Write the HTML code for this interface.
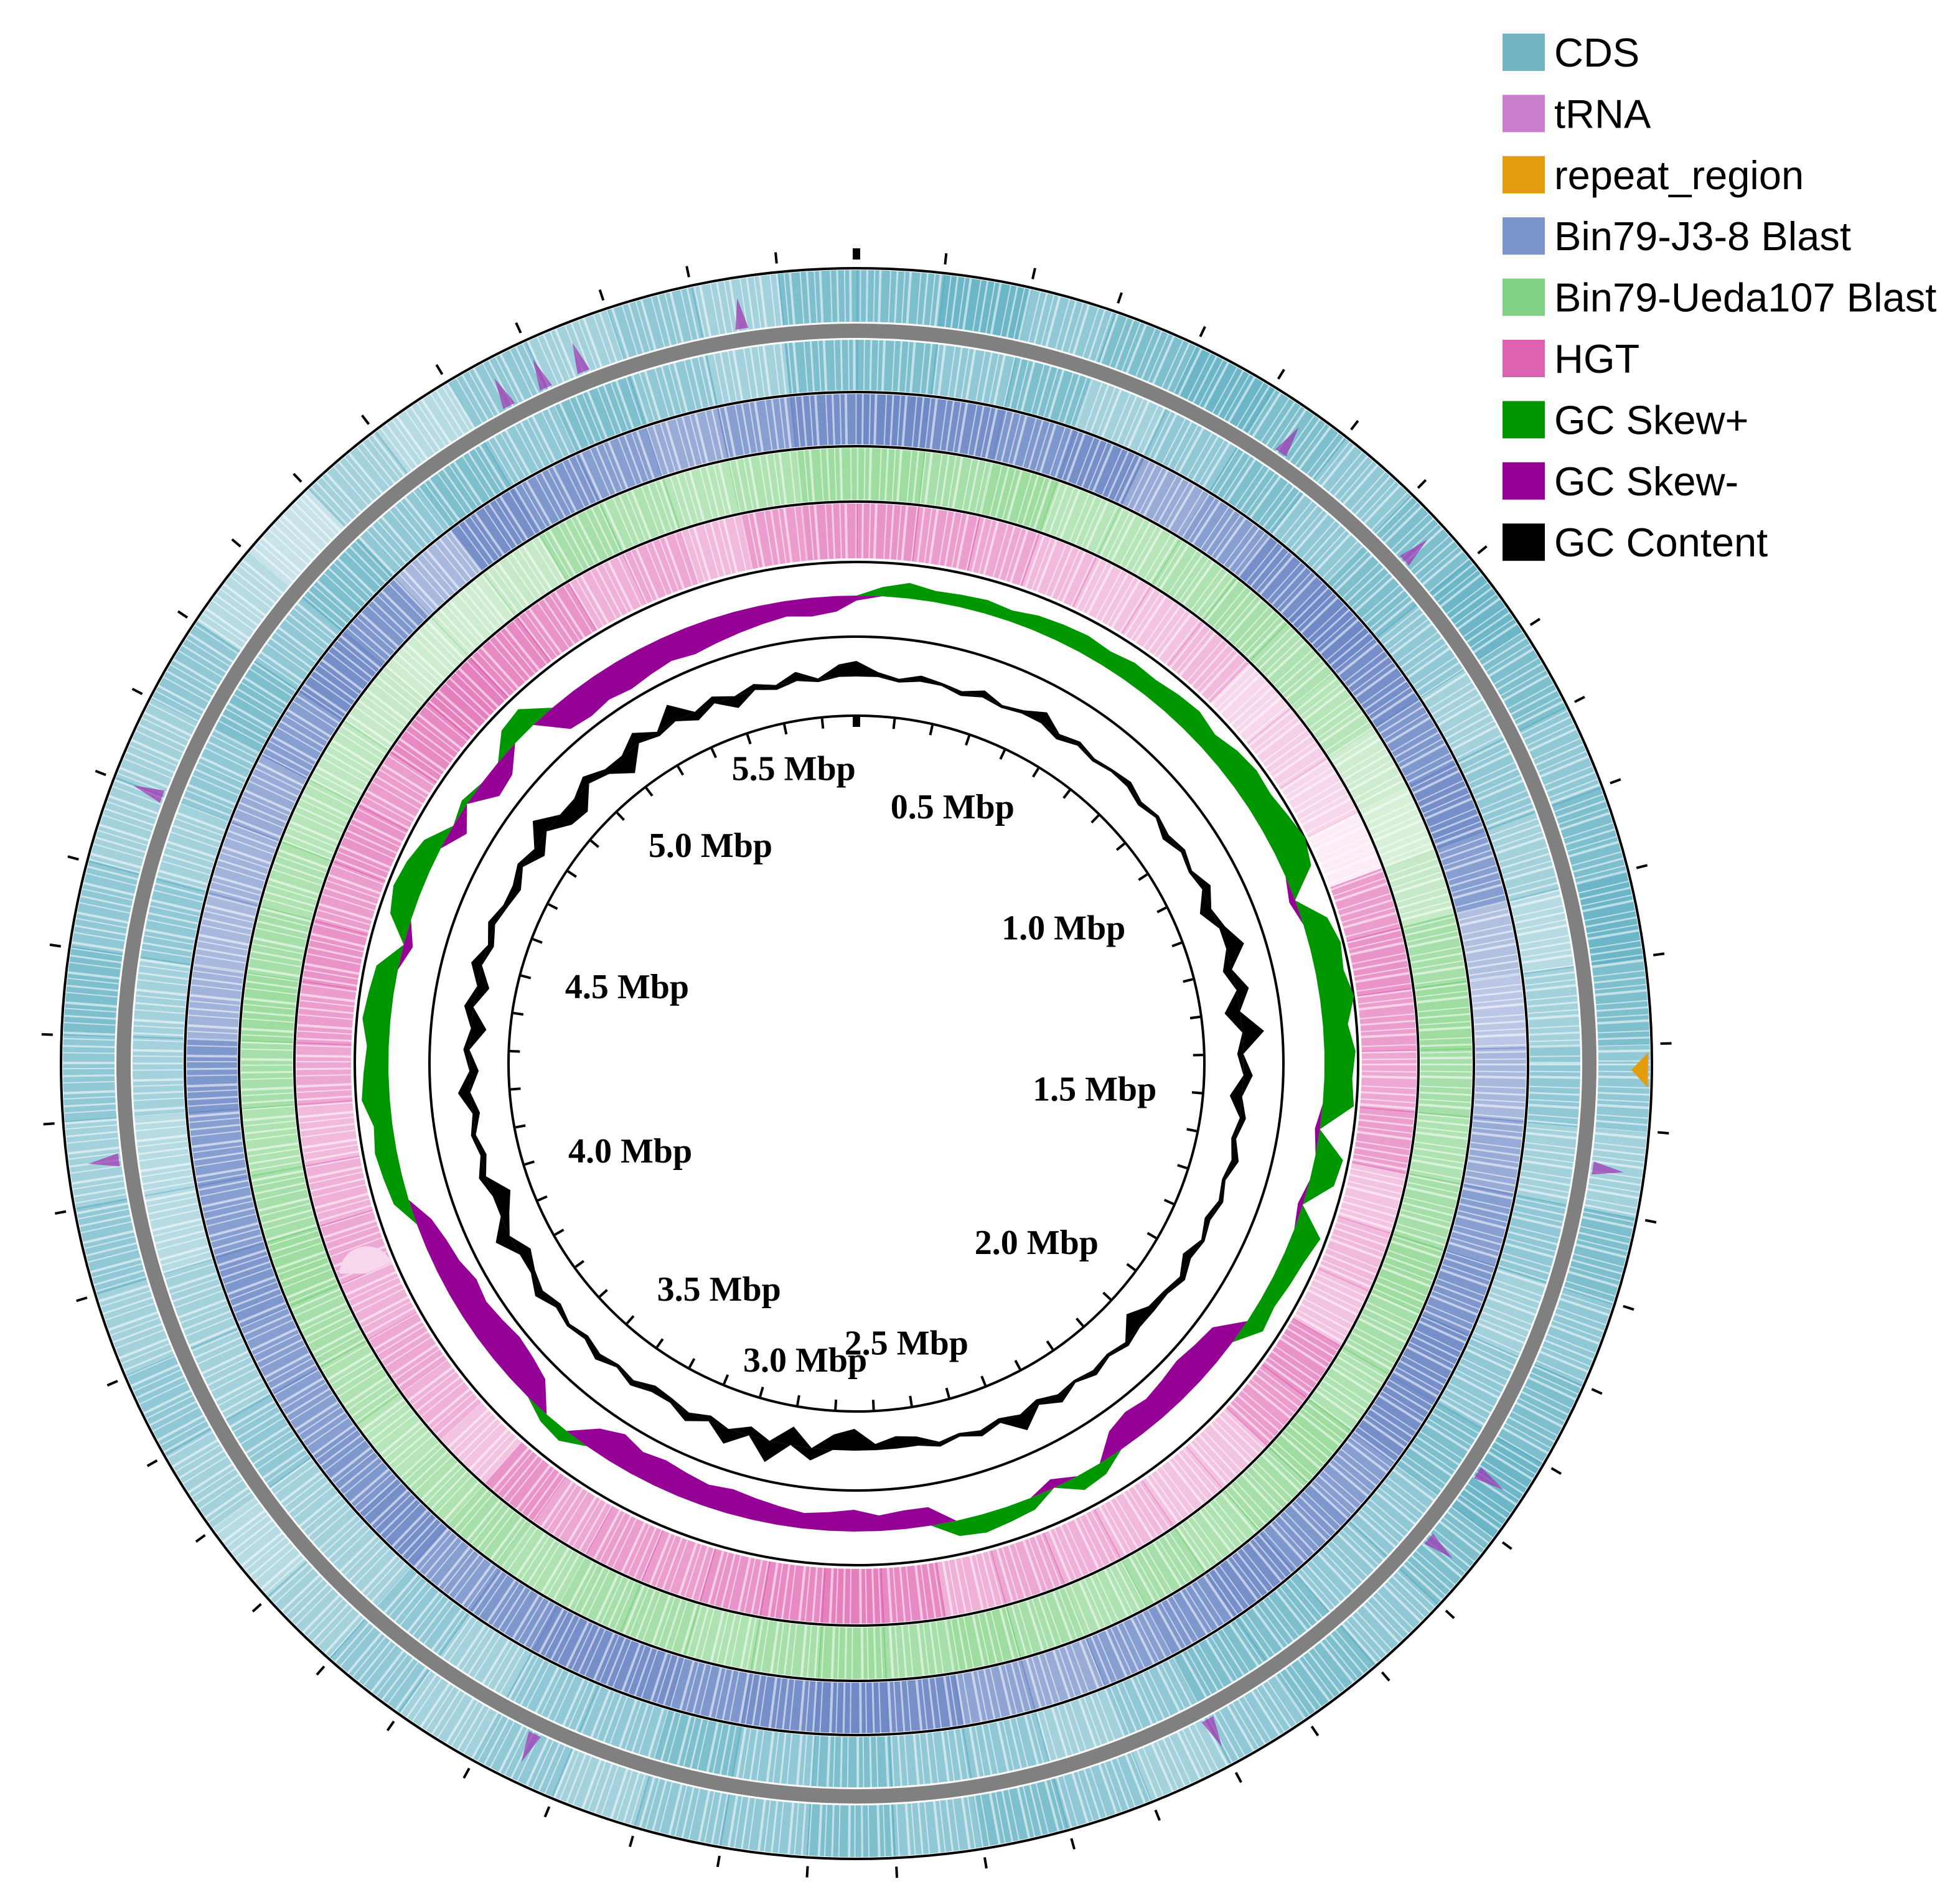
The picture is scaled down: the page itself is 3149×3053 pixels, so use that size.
<!DOCTYPE html>
<html><head><meta charset="utf-8"><style>
html,body{margin:0;padding:0;background:#fff}
svg{display:block}
</style></head><body>
<svg id="chart" xmlns="http://www.w3.org/2000/svg" width="3149" height="3053" viewBox="0 0 3149 3053">
<rect x="0" y="0" width="3149" height="3053" fill="#fff"/>
<g id="rings"></g>
<g id="legend"></g>
</svg>
<script>
const genomeSize = 5.69;
const binSize = 0.1;
const cdsForward = [.7,.8,.6,.7,.8,.7,.6,.7,.8,.7,.6,.7,.8,.7,.6,.5,.7,.6,.7,.8,.7,.6,.7,.6,.5,.6,.7,.6,.7,.6,.6,.5,.6,.5,.6,.5,.4,.5,.6,.5,.6,.5,.6,.7,.6,.5,.5,.6,.4,.3,.5,.4,.6,.5,.6,.5,.7];
const cdsReverse = [.7,.6,.7,.5,.6,.7,.6,.7,.6,.5,.6,.5,.4,.5,.6,.5,.6,.5,.6,.7,.6,.6,.7,.7,.6,.5,.6,.6,.7,.6,.7,.6,.6,.5,.6,.5,.5,.6,.5,.5,.4,.4,.5,.5,.6,.5,.6,.7,.6,.7,.6,.7,.6,.7,.6,.5,.7];
const blastJ38 = [.85,.8,.75,.8,.6,.7,.8,.85,.8,.75,.8,.7,.45,.4,.5,.6,.7,.75,.8,.8,.7,.75,.8,.75,.7,.6,.65,.8,.85,.8,.75,.8,.8,.75,.7,.8,.75,.7,.7,.75,.7,.7,.75,.55,.5,.55,.6,.7,.8,.75,.5,.8,.75,.7,.6,.7,.8];
const blastUeda = [.6,.55,.6,.45,.45,.5,.55,.5,.45,.3,.25,.35,.55,.6,.55,.5,.55,.6,.55,.5,.6,.55,.5,.55,.5,.55,.6,.55,.6,.55,.5,.55,.55,.5,.55,.5,.45,.5,.55,.6,.55,.5,.55,.6,.55,.5,.45,.4,.35,.3,.3,.35,.55,.5,.45,.5,.6];
const hgtCoverage = [.55,.5,.45,.35,.3,.3,.35,.2,.25,.2,.1,.5,.55,.5,.45,.5,.3,.35,.3,.55,.5,.3,.3,.35,.4,.45,.4,.6,.65,.6,.55,.5,.5,.45,.55,.3,.4,.45,.4,.45,.4,.35,.45,.5,.55,.5,.55,.5,.6,.65,.6,.55,.4,.45,.35,.5,.55];
const skewStep = 0.05;
const gcSkew = [-8,15,25,18,20,22,18,25,28,30,26,32,30,35,38,30,40,45,42,48,55,45,-10,40,50,45,55,40,50,45,50,-8,45,40,-8,45,35,30,25,30,-40,-45,-50,-45,-40,-45,-35,20,25,-15,20,25,30,25,-30,-30,-25,-35,-30,-25,-30,-35,-40,-35,-40,-45,-40,-50,-35,20,15,-40,-50,-55,-50,-45,-50,-40,-35,-25,25,30,35,30,45,40,35,45,40,35,-15,35,45,40,30,-25,10,-35,-30,30,35,-45,-50,-45,-50,-45,-40,-45,-40,-35,-30,-25,-30,-25];
const gcContent = [25,8,-6,10,5,-8,12,-5,6,20,-10,8,-6,5,10,-8,6,-12,8,-6,15,-20,10,30,-15,20,-25,35,-10,15,-20,10,-8,12,-6,8,-10,6,-15,10,-8,-12,-30,8,-6,10,-5,15,-10,28,-8,10,-6,8,-15,-20,-10,-35,-25,20,-30,35,-15,25,-10,15,-8,-12,10,-6,12,-8,6,-10,15,-8,-20,25,-15,-30,12,-10,8,-12,20,-15,10,-25,15,-20,18,-10,12,-8,-15,10,-20,28,-25,-30,15,-10,-35,20,-8,30,-15,12,-20,10,-8,15,-6,20];
const trnaPositions = [0.55,0.75,1.55,1.95,2.05,2.4,3.25,4.15,4.6,5.25,5.3,5.35,5.55];
const repeatPositions = [1.43];
const scaleLabels = [0.5,1.0,1.5,2.0,2.5,3.0,3.5,4.0,4.5,5.0,5.5];
const legendLabels = ["CDS","tRNA","repeat_region","Bin79-J3-8 Blast","Bin79-Ueda107 Blast","HGT","GC Skew+","GC Skew-","GC Content"];
const legendColors = ["#74b5c4","#c97fcc","#e39c0c","#7b95cb","#80d184","#df62b2","#009600","#950095","#000000"];

const NS="http://www.w3.org/2000/svg";
const cx=1376, cy=1709;
const g=document.getElementById('rings');
function ang(m){return m/genomeSize*2*Math.PI;}
function pt(m,r){const a=ang(m);return [cx+r*Math.sin(a), cy-r*Math.cos(a)];}
function mk(tag,attrs,parent){const e=document.createElementNS(NS,tag);for(const k in attrs)e.setAttribute(k,attrs[k]);(parent||g).appendChild(e);return e;}
function sector(m1,m2,r1,r2){
  const a=pt(m1,r2),b=pt(m2,r2),c=pt(m2,r1),d=pt(m1,r1);
  const large=(m2-m1)/genomeSize>0.5?1:0;
  return `M${a[0]},${a[1]} A${r2},${r2} 0 ${large} 1 ${b[0]},${b[1]} L${c[0]},${c[1]} A${r1},${r1} 0 ${large} 0 ${d[0]},${d[1]} Z`;
}
function drawBins(arr,r1,r2,color,name){
  arr.forEach((v,i)=>{
    const s=i*binSize, e=Math.min((i+1)*binSize,genomeSize);
    if(s>=genomeSize) return;
    const p=mk('path',{d:sector(s,e+0.002,r1,r2),fill:color,'fill-opacity':Math.min(1,v*1.15)});
    
    
  });
  // stripe texture (white gaps between features)
  const rm=(r1+r2)/2;
  const tex=mk('circle',{cx:cx,cy:cy,r:rm,fill:'none',stroke:'#fff','stroke-width':r2-r1,'stroke-opacity':0.55,'stroke-dasharray':'3 9 2 6 4 13 2 8'});
  
  
}
drawBins(cdsForward,1192,1275,'#5fb0c2','cds-forward');
drawBins(cdsReverse,1082,1163,'#5fb0c2','cds-reverse');
drawBins(blastJ38,995,1076,'#6a86c4','blast-j3-8');
drawBins(blastUeda,906,989,'#72cc76','blast-ueda107');
drawBins(hgtCoverage,812,900,'#dc55aa','hgt');

let gr=mk('circle',{cx:cx,cy:cy,r:1177.5,fill:'none',stroke:'#808080','stroke-width':23});



trnaPositions.forEach(m=>{
  const a=pt(m-0.008,1195),b=pt(m+0.008,1195),c=pt(m,1245);
  const t=mk('path',{d:`M${a[0]},${a[1]} L${b[0]},${b[1]} L${c[0]},${c[1]} Z`,fill:'#a030b0','fill-opacity':0.7});
  
  
});
repeatPositions.forEach(m=>{
  const a=pt(m-0.02,1272),b=pt(m+0.02,1272),c=pt(m,1245);
  const t=mk('path',{d:`M${a[0]},${a[1]} L${b[0]},${b[1]} L${c[0]},${c[1]} Z`,fill:'#e39c0c'});
  
  
});

[[1278,4],[1079,4],[992,4],[903,4],[806,4],[686,4],[559,4]].forEach(([r,w])=>{
  const c=mk('circle',{cx:cx,cy:cy,r:r,fill:'none',stroke:'#000','stroke-width':w});
  
  
});

function areaPath(vals,step,base,sign){
  const pts=[];
  vals.forEach((v,i)=>{
    const val=sign>0?Math.max(v,0):Math.min(v,0);
    pts.push(pt(i*step,base+val));
  });
  pts.push(pt(genomeSize,base+(sign>0?Math.max(vals[0],0):Math.min(vals[0],0))));
  let d='M'+pts.map(p=>p[0].toFixed(1)+','+p[1].toFixed(1)).join(' L');
  const back=[];
  for(let i=pts.length-1;i>=0;i--){const m=Math.min(i*step,genomeSize);back.push(pt(m,base));}
  d+=' L'+back.map(p=>p[0].toFixed(1)+','+p[1].toFixed(1)).join(' L')+' Z';
  return d;
}
let sp=mk('path',{d:areaPath(gcSkew,skewStep,752,1),fill:'#009600'});


let sn=mk('path',{d:areaPath(gcSkew,skewStep,752,-1),fill:'#950095'});


let gp=mk('path',{d:areaPath(gcContent,skewStep,622,1),fill:'#000'});


let gn=mk('path',{d:areaPath(gcContent,skewStep,622,-1),fill:'#000'});



const nT=Math.floor(genomeSize/0.1);
for(let i=0;i<=nT;i++){
  const m=i*0.1;
  const o1=pt(m,1292),o2=pt(m,1310);
  const t=mk('line',{x1:o1[0],y1:o1[1],x2:o2[0],y2:o2[1],stroke:'#000','stroke-width':i===0?12:4});
  
  
  const i1=pt(m,541),i2=pt(m,557);
  const u=mk('line',{x1:i1[0],y1:i1[1],x2:i2[0],y2:i2[1],stroke:'#000','stroke-width':i===0?12:4});
  
  
}
scaleLabels.forEach(m=>{
  const p=pt(m,484);
  const s=Math.sin(ang(m));
  const anchor=s>0.3?'end':(s<-0.3?'start':'middle');
  const t=mk('text',{x:p[0],y:p[1]+18,'text-anchor':anchor,'font-family':'"Liberation Serif", serif','font-weight':'bold','font-size':56,fill:'#000'});
  t.textContent=m.toFixed(1)+' Mbp';
  
  
});

const lg=document.getElementById('legend');
legendLabels.forEach((lab,i)=>{
  const y=84+i*98.4;
  const r=mk('rect',{x:2414,y:y-30,width:68,height:60,fill:legendColors[i]},lg);
  
  
  const t=mk('text',{x:2497,y:y+23,'font-family':'"Liberation Sans", sans-serif','font-size':65,fill:'#000'},lg);
  t.textContent=lab;
  
  
});
</script>
</body></html>
